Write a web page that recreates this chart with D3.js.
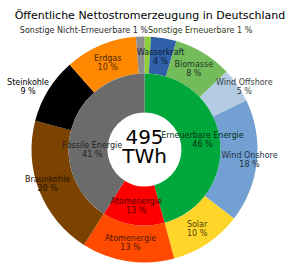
<!DOCTYPE html>
<html>
<head>
<meta charset="utf-8">
<script src="https://cdn.jsdelivr.net/npm/d3@7"></script>
<style>
  body { margin: 0; background: #fff; }
  svg { font-family: "DejaVu Sans", sans-serif; display: block; }
</style>
</head>
<body>
<div id="chart"></div>
<script>
const title = 'Öffentliche Nettostromerzeugung in Deutschland'
const centerLines = ['495', 'TWh']

// inner ring (TWh)
const groups = ['Erneuerbare Energie', 'Atomenergie', 'Fossile Energie']
const groupValues = [226.5, 65.5, 203]
const groupColors = ['#00a83c', '#ff0000', '#6b6b6b']

// outer ring (TWh)
const sources = ['Sonstige Erneuerbare', 'Wasserkraft', 'Biomasse', 'Wind Offshore', 'Wind Onshore',
  'Solar', 'Atomenergie', 'Braunkohle', 'Steinkohle', 'Erdgas', 'Sonstige Nicht-Erneuerbare']
const sourceValues = [4.5, 18, 41.5, 24.5, 87, 51, 65.5, 99.5, 46.5, 51, 6]
const sourceColors = ['#8ed03c', '#2f60a8', '#74bb5c', '#b3cbe3', '#73a0d3',
  '#ffd52a', '#ff4a00', '#7b4200', '#000000', '#ff8800', '#8c8c8c']

const width = 290, height = 266
const cx = 144.5, cy = 149.5
const rHole = 37, rMid = 76, rOuter = 113

const total = d3.sum(sourceValues)
const pct = v => Math.round(v / total * 100) + ' %'

// label placement tweaks (layout only)
const outerTweaks = {
  'Sonstige Erneuerbare': { r: 119.5, dx: 0, dy: 0, anchor: 'start', oneLine: true },
  'Sonstige Nicht-Erneuerbare': { r: 119.5, dx: 8, dy: 0, anchor: 'end', oneLine: true },
  'Wind Offshore': { dx: 22, dy: -9 },
  'Wind Onshore': { dx: 11, dy: 0 },
  'Braunkohle': { dx: -9, dy: -1 },
  'Steinkohle': { dx: -36, dy: -13 }
}
const innerTweaks = {
  'Erneuerbare Energie': { dx: 2, dy: -3 },
  'Fossile Energie': { dx: 2, dy: 16 }
}

const svg = d3.select('#chart').append('svg')
  .attr('width', width).attr('height', height)

svg.append('text')
  .attr('x', width / 2 + 5).attr('y', 19)
  .attr('text-anchor', 'middle')
  .attr('font-size', 11)
  .attr('fill', '#000')
  .text(title)

const g = svg.append('g').attr('transform', `translate(${cx},${cy})`)

const pie = d3.pie().sort(null).value(d => d.value)

const outerData = pie(sources.map((s, i) => ({ name: s, value: sourceValues[i], color: sourceColors[i] })))
const innerData = pie(groups.map((s, i) => ({ name: s, value: groupValues[i], color: groupColors[i] })))

const outerArc = d3.arc().innerRadius(rMid).outerRadius(rOuter)
const innerArc = d3.arc().innerRadius(rHole).outerRadius(rMid)

g.selectAll('.outer').data(outerData).enter().append('path')
  .attr('class', 'outer')
  .attr('d', outerArc)
  .attr('fill', d => d.data.color)

g.selectAll('.inner').data(innerData).enter().append('path')
  .attr('class', 'inner')
  .attr('d', innerArc)
  .attr('fill', d => d.data.color)

function drawLabels(data, rDefault, tweaks) {
  data.forEach(d => {
    const t = tweaks[d.data.name] || {}
    const r = t.r || rDefault
    const a = (d.startAngle + d.endAngle) / 2
    const x = r * Math.sin(a) + (t.dx || 0)
    const y = -r * Math.cos(a) + (t.dy || 0)
    const col = d3.color(d.data.color).darker(3.3).formatHex()
    const txt = g.append('text')
      .attr('font-size', 8)
      .attr('fill', col)
      .attr('text-anchor', t.anchor || 'middle')
    if (t.oneLine) {
      txt.attr('x', x).attr('y', y + 3)
        .text(d.data.name + ' ' + pct(d.data.value))
    } else {
      txt.append('tspan').attr('x', x).attr('y', y - 1.5).text(d.data.name)
      txt.append('tspan').attr('x', x).attr('y', y + 7.5).text(pct(d.data.value))
    }
  })
}

drawLabels(outerData, (rMid + rOuter) / 2, outerTweaks)
drawLabels(innerData, (rHole + rMid) / 2, innerTweaks)

g.append('text')
  .attr('text-anchor', 'middle')
  .attr('font-size', 20)
  .attr('y', -6)
  .text(centerLines[0])
g.append('text')
  .attr('text-anchor', 'middle')
  .attr('font-size', 20)
  .attr('y', 13)
  .text(centerLines[1])
</script>
</body>
</html>
